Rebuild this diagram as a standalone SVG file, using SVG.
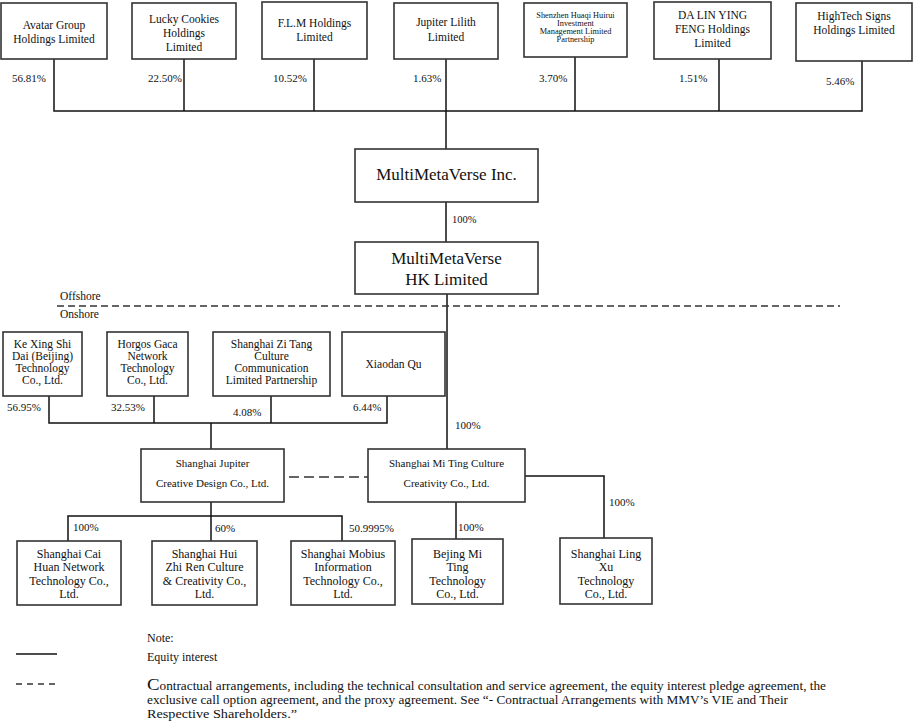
<svg xmlns="http://www.w3.org/2000/svg" width="916" height="724" viewBox="0 0 916 724">
<style>
text{font-family:"Liberation Serif","Times New Roman",serif;fill:#111;}
.b{fill:#fff;stroke:#333;stroke-width:1.6;}
.t{font-size:11.5px;text-anchor:middle;}
.s{font-size:8.3px;text-anchor:middle;}
.c{font-size:12px;text-anchor:middle;}
.m{font-size:11px;text-anchor:middle;}
.p{font-size:11px;}
.big{font-size:17px;text-anchor:middle;}
.l{fill:none;stroke:#111;stroke-width:1.5;}
.d{fill:none;stroke:#333;stroke-width:1.6;stroke-dasharray:8 5;}
.n{font-size:12px;}
</style>
<rect width="916" height="724" fill="#fff"/>
<g id="connectors">
<polyline class="l" points="54,59 54,111 862,111 862,61"/>
<line class="l" x1="184" y1="59" x2="184" y2="111"/>
<line class="l" x1="314" y1="59" x2="314" y2="111"/>
<line class="l" x1="446" y1="59" x2="446" y2="149"/>
<line class="l" x1="575" y1="57" x2="575" y2="111"/>
<line class="l" x1="719" y1="59" x2="719" y2="111"/>
<line class="l" x1="446" y1="202" x2="446" y2="242"/>
<line class="l" x1="447" y1="294" x2="447" y2="449"/>
<line class="d" x1="57" y1="306" x2="840" y2="306" style="stroke-dasharray:7 4"/>
<polyline class="l" points="49,396 49,423 387,423 387,396"/>
<line class="l" x1="154" y1="396" x2="154" y2="423"/>
<line class="l" x1="271" y1="396" x2="271" y2="423"/>
<line class="l" x1="211" y1="423" x2="211" y2="449"/>
<line class="d" x1="289" y1="477" x2="368" y2="477" style="stroke-dasharray:10 5"/>
<polyline class="l" points="68,541 68,516 342,516 342,541"/>
<line class="l" x1="211" y1="502" x2="211" y2="541"/>
<line class="l" x1="456" y1="502" x2="456" y2="539"/>
<polyline class="l" points="525,476 604,476 604,538"/>
</g>
<g id="n-avatar"><rect class="b" x="1" y="3" width="106" height="56"/><text class="t" x="54" y="29">Avatar Group</text><text class="t" x="54" y="43">Holdings Limited</text></g>
<g id="n-lucky"><rect class="b" x="132" y="3" width="104" height="56"/><text class="t" x="184" y="23">Lucky Cookies</text><text class="t" x="184" y="37">Holdings</text><text class="t" x="184" y="51">Limited</text></g>
<g id="n-flm"><rect class="b" x="262" y="2" width="105" height="57"/><text class="t" x="314.5" y="27">F.L.M Holdings</text><text class="t" x="314.5" y="41">Limited</text></g>
<g id="n-jupiter-lilith"><rect class="b" x="394" y="3" width="104" height="56"/><text class="t" x="446" y="26">Jupiter Lilith</text><text class="t" x="446" y="41">Limited</text></g>
<g id="n-shenzhen"><rect class="b" x="524" y="3" width="103" height="54"/><text class="s" x="575.5" y="18">Shenzhen Huaqi Huirui</text><text class="s" x="575.5" y="26">Investment</text><text class="s" x="575.5" y="34">Management Limited</text><text class="s" x="575.5" y="42">Partnership</text></g>
<g id="n-dalin"><rect class="b" x="654" y="2" width="117" height="57"/><text class="t" x="712.5" y="19">DA LIN YING</text><text class="t" x="712.5" y="33">FENG Holdings</text><text class="t" x="712.5" y="47">Limited</text></g>
<g id="n-hightech"><rect class="b" x="796" y="3" width="116" height="58"/><text class="t" x="854" y="20">HighTech Signs</text><text class="t" x="854" y="34">Holdings Limited</text></g>
<g id="top-pct">
<text class="p" x="12" y="82">56.81%</text>
<text class="p" x="148" y="82">22.50%</text>
<text class="p" x="273" y="82">10.52%</text>
<text class="p" x="413" y="82">1.63%</text>
<text class="p" x="539" y="82">3.70%</text>
<text class="p" x="679" y="82">1.51%</text>
<text class="p" x="826" y="85">5.46%</text>
</g>
<g id="n-mmv"><rect class="b" x="355" y="149" width="183" height="53"/><text class="big" x="446.5" y="180">MultiMetaVerse Inc.</text></g>
<text class="p" x="452" y="223" style="font-size:10.5px">100%</text>
<g id="n-hk"><rect class="b" x="355" y="242" width="183" height="52"/><text class="big" x="446.5" y="264">MultiMetaVerse</text><text class="big" x="446.5" y="285">HK Limited</text></g>
<text class="p" x="60" y="300" style="font-size:11.5px">Offshore</text>
<text class="p" x="60" y="318" style="font-size:11.5px">Onshore</text>
<g id="n-kexing"><rect class="b" x="3" y="332" width="79" height="64"/><text class="t" x="42.5" y="348">Ke Xing Shi</text><text class="t" x="42.5" y="360">Dai (Beijing)</text><text class="t" x="42.5" y="372">Technology</text><text class="t" x="42.5" y="384">Co., Ltd.</text></g>
<g id="n-horgos"><rect class="b" x="107" y="332" width="81" height="64"/><text class="t" x="147.5" y="348">Horgos Gaca</text><text class="t" x="147.5" y="360">Network</text><text class="t" x="147.5" y="372">Technology</text><text class="t" x="147.5" y="384">Co., Ltd.</text></g>
<g id="n-zitang"><rect class="b" x="213" y="332" width="117" height="64"/><text class="t" x="271.5" y="348">Shanghai Zi Tang</text><text class="t" x="271.5" y="360">Culture</text><text class="t" x="271.5" y="372">Communication</text><text class="t" x="271.5" y="384">Limited Partnership</text></g>
<g id="n-xiaodan"><rect class="b" x="342" y="332" width="103" height="64"/><text class="t" x="393.5" y="368">Xiaodan Qu</text></g>
<g id="mid-pct">
<text class="p" x="7" y="411">56.95%</text>
<text class="p" x="111" y="411">32.53%</text>
<text class="p" x="233" y="416">4.08%</text>
<text class="p" x="353" y="411">6.44%</text>
<text class="p" x="455" y="429">100%</text>
</g>
<g id="n-jupiter"><rect class="b" x="141" y="449" width="143" height="53"/><text class="m" x="212.5" y="467">Shanghai Jupiter</text><text class="m" x="212.5" y="487">Creative Design Co., Ltd.</text></g>
<g id="n-miting"><rect class="b" x="368" y="449" width="157" height="53"/><text class="m" x="446.5" y="467">Shanghai Mi Ting Culture</text><text class="m" x="446.5" y="487">Creativity Co., Ltd.</text></g>
<g id="bot-pct">
<text class="p" x="73" y="531">100%</text>
<text class="p" x="215" y="532">60%</text>
<text class="p" x="349" y="532">50.9995%</text>
<text class="p" x="458" y="531">100%</text>
<text class="p" x="609" y="506">100%</text>
</g>
<g id="n-caihuan"><rect class="b" x="17" y="541" width="104" height="64"/><text class="c" x="69" y="558">Shanghai Cai</text><text class="c" x="69" y="571">Huan Network</text><text class="c" x="69" y="585">Technology Co.,</text><text class="c" x="69" y="598">Ltd.</text></g>
<g id="n-huizhiren"><rect class="b" x="152" y="541" width="105" height="64"/><text class="c" x="204.5" y="558">Shanghai Hui</text><text class="c" x="204.5" y="571">Zhi Ren Culture</text><text class="c" x="204.5" y="585">&amp; Creativity Co.,</text><text class="c" x="204.5" y="598">Ltd.</text></g>
<g id="n-mobius"><rect class="b" x="291" y="541" width="104" height="64"/><text class="c" x="343" y="558">Shanghai Mobius</text><text class="c" x="343" y="571">Information</text><text class="c" x="343" y="585">Technology Co.,</text><text class="c" x="343" y="598">Ltd.</text></g>
<g id="n-bejing"><rect class="b" x="412" y="539" width="91" height="65"/><text class="c" x="457.5" y="558">Bejing Mi</text><text class="c" x="457.5" y="571">Ting</text><text class="c" x="457.5" y="585">Technology</text><text class="c" x="457.5" y="598">Co., Ltd.</text></g>
<g id="n-lingxu"><rect class="b" x="560" y="538" width="92" height="66"/><text class="c" x="606" y="558">Shanghai Ling</text><text class="c" x="606" y="571">Xu</text><text class="c" x="606" y="585">Technology</text><text class="c" x="606" y="598">Co., Ltd.</text></g>
<g id="legend">
<text class="n" x="147" y="642">Note:</text>
<line x1="16" y1="654" x2="57" y2="654" stroke="#111" stroke-width="1.6"/>
<text class="n" x="147" y="661">Equity interest</text>
<line x1="16" y1="684" x2="57" y2="684" stroke="#333" stroke-width="1.6" stroke-dasharray="6 5"/>
<text class="n" x="147" y="690" textLength="679" lengthAdjust="spacingAndGlyphs"><tspan style="font-size:17px">C</tspan>ontractual arrangements, including the technical consultation and service agreement, the equity interest pledge agreement, the</text>
<text class="n" x="147" y="704" textLength="641" lengthAdjust="spacingAndGlyphs">exclusive call option agreement, and the proxy agreement. See “- Contractual Arrangements with MMV’s VIE and Their</text>
<text class="n" x="147" y="718" textLength="150" lengthAdjust="spacingAndGlyphs">Respective Shareholders.”</text>
</g>
</svg>
